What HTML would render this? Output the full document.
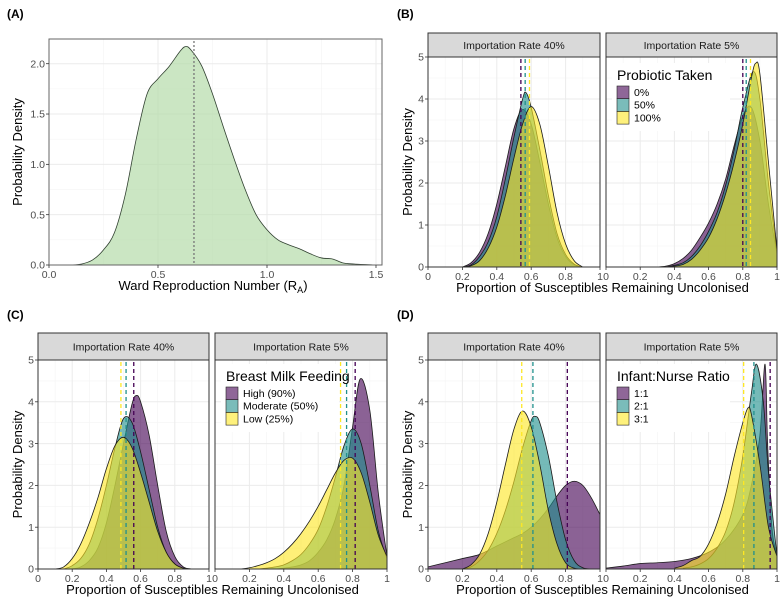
<!DOCTYPE html>
<html><head><meta charset="utf-8">
<style>
html,body{margin:0;padding:0;background:#fff;}
svg{display:block;font-family:"Liberation Sans",Arial,sans-serif;}
</style></head>
<body>
<svg id="fig" width="783" height="601" viewBox="0 0 783 601" xmlns="http://www.w3.org/2000/svg">
<rect width="783" height="601" fill="#fff"/>
<text x="7" y="18" font-size="12" font-weight="bold" fill="#000">(A)</text>
<text x="397" y="18" font-size="12" font-weight="bold" fill="#000">(B)</text>
<text x="7" y="319" font-size="12" font-weight="bold" fill="#000">(C)</text>
<text x="397" y="319" font-size="12" font-weight="bold" fill="#000">(D)</text>
</svg>
<script>
// ---------- Panel A data ----------
const aX = [0.1,0.15,0.2,0.25,0.3,0.35,0.4,0.45,0.5,0.55,0.6,0.625,0.65,0.7,0.75,0.8,0.85,0.9,0.95,1.0,1.05,1.1,1.15,1.2,1.25,1.3,1.35,1.4,1.5];
const aY = [0,0.01,0.05,0.15,0.32,0.7,1.25,1.7,1.85,1.97,2.12,2.17,2.14,1.98,1.7,1.37,1.05,0.75,0.5,0.35,0.25,0.2,0.16,0.11,0.07,0.06,0.02,0.01,0];
const aMean = 0.665;
const aXTicks = [0,0.5,1.0,1.5];
const aXTickLabels = ["0.0","0.5","1.0","1.5"];
const aYTicks = [0,0.5,1,1.5,2];
const aYTickLabels = ["0.0","0.5","1.0","1.5","2.0"];

// ---------- Facet tick data ----------
const fXTicks = [0,0.2,0.4,0.6,0.8,1];
const fXTickLabels = ["0","0.2","0.4","0.6","0.8","1"];
const fYTicks = [0,1,2,3,4,5];
const fYTickLabels = ["0","1","2","3","4","5"];

// ---------- Panel B ----------
const bLegendTitle = "Probiotic Taken";
const bLegendLabels = ["0%","50%","100%"];
const bLPurpleX = [0.2,0.25,0.3,0.35,0.4,0.45,0.5,0.55,0.6,0.65,0.7,0.75,0.8,0.85,0.9];
const bLPurpleY = [0,0.1,0.35,0.8,1.5,2.4,3.3,3.75,3.4,2.5,1.5,0.7,0.25,0.05,0];
const bLTealX = [0.2,0.25,0.3,0.35,0.4,0.45,0.5,0.55,0.57,0.6,0.65,0.7,0.75,0.8,0.85,0.9];
const bLTealY = [0,0.05,0.25,0.6,1.2,2.1,3.1,4.0,4.15,3.8,2.8,1.7,0.8,0.3,0.07,0];
const bLYellowX = [0.2,0.25,0.3,0.35,0.4,0.45,0.5,0.55,0.6,0.65,0.7,0.75,0.8,0.85,0.9];
const bLYellowY = [0,0.03,0.15,0.45,0.95,1.7,2.6,3.4,3.82,3.4,2.4,1.3,0.55,0.15,0];
const bLMeans = [0.54,0.565,0.59];
const bRPurpleX = [0.3,0.35,0.4,0.45,0.5,0.55,0.6,0.65,0.7,0.75,0.8,0.85,0.9,0.95,1.0];
const bRPurpleY = [0,0.02,0.08,0.2,0.4,0.7,1.05,1.5,2.1,2.9,3.6,3.8,3.0,1.5,0.3];
const bRTealX = [0.35,0.4,0.45,0.5,0.55,0.6,0.65,0.7,0.75,0.8,0.86,0.9,0.95,1.0];
const bRTealY = [0,0.04,0.1,0.25,0.5,0.85,1.3,1.95,2.8,3.8,4.65,4.0,2.0,0.35];
const bRYellowX = [0.35,0.4,0.45,0.5,0.55,0.6,0.65,0.7,0.75,0.8,0.85,0.875,0.9,0.95,1.0];
const bRYellowY = [0,0.02,0.06,0.18,0.4,0.7,1.15,1.75,2.5,3.4,4.5,4.85,4.6,2.5,0.4];
const bRMeans = [0.80,0.82,0.845];

// ---------- Panel C ----------
const cLegendTitle = "Breast Milk Feeding";
const cLegendLabels = ["High (90%)","Moderate (50%)","Low (25%)"];
const cLPurpleX = [0.2,0.25,0.3,0.35,0.4,0.45,0.5,0.55,0.575,0.6,0.65,0.7,0.75,0.8,0.85,0.9];
const cLPurpleY = [0,0.05,0.2,0.5,1.1,2.0,3.0,3.95,4.15,4.0,3.2,2.0,0.9,0.3,0.05,0];
const cLTealX = [0.15,0.2,0.25,0.3,0.35,0.4,0.45,0.5,0.55,0.6,0.65,0.7,0.75,0.8,0.85,0.9];
const cLTealY = [0,0.08,0.25,0.6,1.2,2.0,2.9,3.6,3.5,2.8,1.9,1.0,0.4,0.12,0.02,0];
const cLYellowX = [0.1,0.15,0.2,0.25,0.3,0.35,0.4,0.45,0.5,0.55,0.6,0.65,0.7,0.75,0.8,0.85,0.9];
const cLYellowY = [0,0.05,0.25,0.6,1.1,1.7,2.4,2.95,3.15,2.9,2.3,1.6,0.9,0.4,0.12,0.02,0];
const cLMeans = [0.56,0.515,0.485];
const cRPurpleX = [0.35,0.4,0.45,0.5,0.55,0.6,0.65,0.7,0.75,0.8,0.845,0.9,0.95,1.0];
const cRPurpleY = [0,0.02,0.05,0.1,0.2,0.4,0.7,1.2,2.0,3.4,4.55,3.8,1.8,0.3];
const cRTealX = [0.25,0.3,0.35,0.4,0.45,0.5,0.55,0.6,0.65,0.7,0.75,0.8,0.85,0.9,0.95,1.0];
const cRTealY = [0,0.02,0.05,0.1,0.2,0.35,0.6,0.95,1.5,2.2,2.95,3.35,3.0,2.0,0.9,0.25];
const cRYellowX = [0.15,0.2,0.25,0.3,0.35,0.4,0.45,0.5,0.55,0.6,0.65,0.7,0.75,0.8,0.85,0.9,0.95,1.0];
const cRYellowY = [0,0.03,0.08,0.15,0.25,0.4,0.6,0.85,1.15,1.5,1.9,2.3,2.6,2.65,2.3,1.6,0.8,0.3];
const cRMeans = [0.815,0.765,0.73];

// ---------- Panel D ----------
const dLegendTitle = "Infant:Nurse Ratio";
const dLegendLabels = ["1:1","2:1","3:1"];
const dLPurpleX = [0,0.1,0.2,0.3,0.4,0.5,0.55,0.6,0.65,0.7,0.75,0.8,0.85,0.9,0.95,1.0];
const dLPurpleY = [0.05,0.15,0.25,0.35,0.55,0.75,0.85,1.0,1.2,1.45,1.75,2.0,2.1,2.0,1.7,1.3];
const dLTealX = [0.2,0.25,0.3,0.35,0.4,0.45,0.5,0.55,0.6,0.625,0.65,0.7,0.75,0.8,0.85,0.9,0.95];
const dLTealY = [0,0.05,0.2,0.45,0.85,1.4,2.1,2.9,3.55,3.65,3.5,2.7,1.6,0.7,0.2,0.03,0];
const dLYellowX = [0.2,0.25,0.3,0.35,0.4,0.45,0.5,0.55,0.6,0.65,0.7,0.75,0.8,0.85,0.9];
const dLYellowY = [0,0.1,0.35,0.85,1.6,2.5,3.35,3.78,3.4,2.5,1.4,0.6,0.15,0.02,0];
const dLMeans = [0.81,0.61,0.545];
const dRPurpleX = [0,0.1,0.2,0.3,0.4,0.5,0.6,0.7,0.8,0.85,0.9,0.93,0.945,0.97,1.0];
const dRPurpleY = [0.02,0.07,0.13,0.15,0.18,0.25,0.4,0.7,1.3,2.0,3.2,4.9,3.0,1.0,0.3];
const dRTealX = [0.45,0.5,0.55,0.6,0.65,0.7,0.75,0.8,0.85,0.88,0.92,0.95,1.0];
const dRTealY = [0.02,0.05,0.12,0.25,0.5,0.9,1.6,2.7,4.2,4.9,4.0,2.3,0.3];
const dRYellowX = [0.4,0.45,0.5,0.55,0.6,0.65,0.7,0.75,0.8,0.83,0.85,0.9,0.95,1.0];
const dRYellowY = [0.02,0.08,0.2,0.3,0.6,1.1,1.8,2.7,3.5,3.85,3.7,2.5,1.0,0.3];
const dRMeans = [0.96,0.865,0.805];

const NS = "http://www.w3.org/2000/svg";
const svg = document.getElementById("fig");
const COLORS = ["#440154","#21908C","#FDE725"];
let clipId = 0;

function mk(tag, attrs, parent) {
  const e = document.createElementNS(NS, tag);
  for (const k in attrs) e.setAttribute(k, attrs[k]);
  (parent || svg).appendChild(e);
  return e;
}
function txt(s, attrs, parent) {
  const e = mk("text", attrs, parent);
  e.textContent = s;
  return e;
}
function splinePath(pts) {
  let d = "M" + pts[0][0].toFixed(2) + "," + pts[0][1].toFixed(2);
  for (let i = 0; i < pts.length - 1; i++) {
    const p0 = pts[Math.max(0, i - 1)], p1 = pts[i], p2 = pts[i + 1], p3 = pts[Math.min(pts.length - 1, i + 2)];
    const c1x = p1[0] + (p2[0] - p0[0]) / 6, c1y = p1[1] + (p2[1] - p0[1]) / 6;
    const c2x = p2[0] - (p3[0] - p1[0]) / 6, c2y = p2[1] - (p3[1] - p1[1]) / 6;
    d += "C" + c1x.toFixed(2) + "," + c1y.toFixed(2) + " " + c2x.toFixed(2) + "," + c2y.toFixed(2) + " " + p2[0].toFixed(2) + "," + p2[1].toFixed(2);
  }
  return d;
}

function makePanel(name, X0, X1, Y0, Y1, sx, sy, xMajor, yMajor, xMinor, yMinor, borderColor) {
  const g = mk("g", {});
  
  
  mk("rect", {x: X0, y: Y0, width: X1 - X0, height: Y1 - Y0, fill: "#fff"}, g);
  xMinor.forEach(v => mk("line", {x1: sx(v), x2: sx(v), y1: Y0, y2: Y1, stroke: "#f4f4f4", "stroke-width": 0.6}, g));
  yMinor.forEach(v => mk("line", {x1: X0, x2: X1, y1: sy(v), y2: sy(v), stroke: "#f4f4f4", "stroke-width": 0.6}, g));
  xMajor.forEach(v => mk("line", {x1: sx(v), x2: sx(v), y1: Y0, y2: Y1, stroke: "#ebebeb", "stroke-width": 1}, g));
  yMajor.forEach(v => mk("line", {x1: X0, x2: X1, y1: sy(v), y2: sy(v), stroke: "#ebebeb", "stroke-width": 1}, g));
  const id = "clip" + (clipId++);
  const cp = mk("clipPath", {id: id}, g);
  mk("rect", {x: X0, y: Y0, width: X1 - X0, height: Y1 - Y0}, cp);
  const inner = mk("g", {"clip-path": "url(#" + id + ")"}, g);
  return {g, inner, sx, sy, X0, X1, Y0, Y1, borderColor};
}
function finishPanel(p) {
  const r = mk("rect", {x: p.X0, y: p.Y0, width: p.X1 - p.X0, height: p.Y1 - p.Y0, fill: "none", stroke: p.borderColor, "stroke-width": 1}, p.g);
  
  
}
function density(p, xs, ys, fill, opacity, stroke, name) {
  const pts = xs.map((x, i) => [p.sx(x), p.sy(ys[i])]);
  const line = splinePath(pts);
  const base = p.sy(0);
  const area = line + "L" + pts[pts.length - 1][0].toFixed(2) + "," + base + "L" + pts[0][0].toFixed(2) + "," + base + "Z";
  const a = mk("path", {d: area, fill: fill, "fill-opacity": opacity, stroke: "none"}, p.inner);
  
  
  const l = mk("path", {d: line, fill: "none", stroke: stroke, "stroke-width": 0.8}, p.inner);
  
  
}
function vline(p, v, color, dash, name) {
  const l = mk("line", {x1: p.sx(v), x2: p.sx(v), y1: p.Y0 + 2, y2: p.Y1, stroke: color, "stroke-width": 1.3, "stroke-dasharray": dash}, p.inner);
  
  
}
function xAxis(p, ticks, labels, name) {
  ticks.forEach((v, i) => {
    mk("line", {x1: p.sx(v), x2: p.sx(v), y1: p.Y1, y2: p.Y1 + 3, stroke: "#333", "stroke-width": 0.8}, p.g);
    const t = txt(labels[i], {x: p.sx(v), y: p.Y1 + 13, "font-size": 10.5, fill: "#4d4d4d", "text-anchor": "middle"}, p.g);
    
    
  });
}
function yAxis(p, ticks, labels, name) {
  ticks.forEach((v, i) => {
    mk("line", {x1: p.X0 - 3, x2: p.X0, y1: p.sy(v), y2: p.sy(v), stroke: "#333", "stroke-width": 0.8}, p.g);
    const t = txt(labels[i], {x: p.X0 - 4, y: p.sy(v) + 3.7, "font-size": 10.5, fill: "#4d4d4d", "text-anchor": "end"}, p.g);
    
    
  });
}
function strip(X0, X1, Y0, Y1, label, name) {
  const r = mk("rect", {x: X0, y: Y0, width: X1 - X0, height: Y1 - Y0, fill: "#d9d9d9", stroke: "#333", "stroke-width": 1});
  
  
  const t = txt(label, {x: (X0 + X1) / 2, y: (Y0 + Y1) / 2 + 3.8, "font-size": 10.5, fill: "#1a1a1a", "text-anchor": "middle"});
  
  
}
function yTitle(x, cy, name) {
  const t = txt("Probability Density", {x: x, y: cy, "font-size": 13, fill: "#000", "text-anchor": "middle", transform: "rotate(-90 " + x + " " + cy + ")"});
  
  
}
function legend(x, y, title, labels, name) {
  const g = mk("g", {});
  
  
  mk("rect", {x: x - 5, y: y - 17, width: 118, height: 68, fill: "#fff"}, g);
  txt(title, {x: x, y: y, "font-size": 14, fill: "#000"}, g);
  labels.forEach((lab, i) => {
    const ky = y + 6 + i * 12.7;
    const k = mk("rect", {x: x, y: ky, width: 12, height: 12.7, fill: COLORS[i], "fill-opacity": 0.6, stroke: "#222", "stroke-width": 0.6}, g);
    
    
    const t = txt(lab, {x: x + 17, y: ky + 10, "font-size": 10.5, fill: "#000"}, g);
    
    
  });
}

// ---------- Draw panel A ----------
(function () {
  const sx = v => 49 + v / 1.5 * (376 - 49);
  const sy = v => 265 - v / 2.0 * (265 - 63.7);
  const p = makePanel("panel-a-plot", 49, 382, 39, 265, sx, sy, aXTicks, aYTicks, [0.25,0.75,1.25], [0.25,0.75,1.25,1.75], "#666");
  density(p, aX, aY, "#b5dcaa", 0.7, "#2f3f2f", "ward-r-density");
  vline(p, aMean, "#777", "2,2", "ward-r-mean-line");
  finishPanel(p);
  xAxis(p, aXTicks, aXTickLabels, "panel-a-x");
  yAxis(p, aYTicks, aYTickLabels, "panel-a-y");
  yTitle(22, 152, "panel-a-y-title");
  const t = txt("Ward Reproduction Number (R", {x: 213, y: 290, "font-size": 13, fill: "#000", "text-anchor": "middle"});
  
  
  const sub = document.createElementNS(NS, "tspan");
  sub.setAttribute("font-size", "9"); sub.setAttribute("dy", "3"); sub.textContent = "A";
  t.appendChild(sub);
  const close = document.createElementNS(NS, "tspan");
  close.setAttribute("dy", "-3"); close.textContent = ")";
  t.appendChild(close);
})();

// ---------- Facet panels ----------
function facetPair(prefix, lx0, lx1, rx0, rx1, stripY0, y0, y1, left, right, legendPos, legendTitle, legendLabels, ytx, titleY) {
  const xMinor = [0.1,0.3,0.5,0.7,0.9], yMinor = [0.5,1.5,2.5,3.5,4.5];
  const names = ["purple","teal","yellow"];
  [[lx0, lx1, left, "40%"], [rx0, rx1, right, "5%"]].forEach(([a, b, s, lab], k) => {
    const side = k === 0 ? "left" : "right";
    const sx = v => a + v * (b - a);
    const sy = v => y1 - v / 5 * (y1 - y0);
    const p = makePanel(prefix + "-" + side + "-plot", a, b, y0, y1, sx, sy, fXTicks, fYTicks, xMinor, yMinor, "#333");
    for (let i = 0; i < 3; i++) density(p, s.xs[i], s.ys[i], COLORS[i], 0.62, "#1a1a1a", prefix + "-" + side + "-" + names[i]);
    s.means.forEach((m, i) => vline(p, m, COLORS[i], "4,3", prefix + "-" + side + "-mean-" + names[i]));
    finishPanel(p);
    xAxis(p, fXTicks, fXTickLabels, prefix + "-" + side + "-x");
    if (k === 0) yAxis(p, fYTicks, fYTickLabels, prefix + "-y");
    strip(a, b, stripY0, y0, "Importation Rate " + lab, prefix + "-" + side + "-strip");
  });
  legend(legendPos[0], legendPos[1], legendTitle, legendLabels, prefix + "-legend");
  yTitle(ytx, (y0 + y1) / 2, prefix + "-y-title");
  const t = txt("Proportion of Susceptibles Remaining Uncolonised", {x: (lx0 + rx1) / 2, y: titleY, "font-size": 13, fill: "#000", "text-anchor": "middle"});
  
  
}

facetPair("panel-b", 428, 600, 606, 777, 33, 57, 267,
  {xs: [bLPurpleX, bLTealX, bLYellowX], ys: [bLPurpleY, bLTealY, bLYellowY], means: bLMeans},
  {xs: [bRPurpleX, bRTealX, bRYellowX], ys: [bRPurpleY, bRTealY, bRYellowY], means: bRMeans},
  [617, 80], bLegendTitle, bLegendLabels, 412, 292);

facetPair("panel-c", 38, 209, 215, 387, 333, 360, 569,
  {xs: [cLPurpleX, cLTealX, cLYellowX], ys: [cLPurpleY, cLTealY, cLYellowY], means: cLMeans},
  {xs: [cRPurpleX, cRTealX, cRYellowX], ys: [cRPurpleY, cRTealY, cRYellowY], means: cRMeans},
  [226, 381], cLegendTitle, cLegendLabels, 22, 594);

facetPair("panel-d", 428, 600, 606, 777, 333, 360, 569,
  {xs: [dLPurpleX, dLTealX, dLYellowX], ys: [dLPurpleY, dLTealY, dLYellowY], means: dLMeans},
  {xs: [dRPurpleX, dRTealX, dRYellowX], ys: [dRPurpleY, dRTealY, dRYellowY], means: dRMeans},
  [617, 381], dLegendTitle, dLegendLabels, 412, 594);
</script>
</body></html>
